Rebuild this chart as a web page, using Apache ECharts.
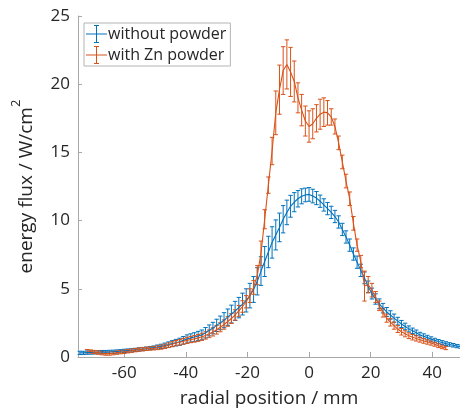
<!DOCTYPE html>
<html>
<head>
<meta charset="utf-8">
<script src="https://cdn.jsdelivr.net/npm/echarts@6/dist/echarts.min.js"></script>
<style>
html,body{margin:0;padding:0;background:#fff;}
#chart{width:460px;height:413px;}
</style>
</head>
<body>
<div id="chart"></div>
<script>
// radial positions (mm), shared by both measurements
var radialPos = [
	-74.4,-73.2,-72.0,-70.8,-69.6,-68.4,-67.2,-66.0,-64.8,-63.6,
	-62.4,-61.2,-60.0,-58.8,-57.6,-56.4,-55.2,-54.0,-52.8,-51.6,
	-50.4,-49.2,-48.0,-46.8,-45.6,-44.4,-43.2,-42.0,-40.8,-39.6,
	-38.4,-37.2,-36.0,-34.8,-33.6,-32.4,-31.2,-30.0,-28.8,-27.6,
	-26.4,-25.2,-24.0,-22.8,-21.6,-20.4,-19.2,-18.0,-16.8,-15.6,
	-14.4,-13.2,-12.0,-10.8,-9.6,-8.4,-7.2,-6.0,-4.8,-3.6,
	-2.4,-1.2,0.0,1.2,2.4,3.6,4.8,6.0,7.2,8.4,
	9.6,10.8,12.0,13.2,14.4,15.6,16.8,18.0,19.2,20.4,
	21.6,22.8,24.0,25.2,26.4,27.6,28.8,30.0,31.2,32.4,
	33.6,34.8,36.0,37.2,38.4,39.6,40.8,42.0,43.2,44.4,
	45.6,46.8,48.0,49.2
];

// without powder: mean and half error (W/cm2)
var noPowderMean = [
	0.30,0.30,0.32,0.33,0.34,0.35,0.36,0.36,0.37,0.38,
	0.40,0.42,0.45,0.47,0.49,0.52,0.55,0.58,0.61,0.65,
	0.69,0.73,0.78,0.84,0.91,0.98,1.05,1.12,1.22,1.32,
	1.40,1.46,1.54,1.62,1.78,1.95,2.12,2.32,2.50,2.70,
	2.92,3.15,3.38,3.62,3.88,4.15,4.50,4.95,5.55,6.30,
	7.00,7.70,8.40,8.95,9.50,10.10,10.60,11.05,11.35,11.60,
	11.78,11.88,11.92,11.80,11.65,11.42,11.15,10.88,10.60,10.30,
	9.90,9.35,8.80,8.20,7.55,6.95,6.35,5.80,5.15,4.65,
	4.25,3.90,3.58,3.30,3.08,2.85,2.63,2.42,2.24,2.06,
	1.92,1.78,1.62,1.52,1.42,1.32,1.22,1.13,1.06,0.98,
	0.92,0.86,0.80,0.76
];
var noPowderErr = [
	0.12,0.12,0.12,0.12,0.12,0.12,0.12,0.12,0.12,0.12,
	0.12,0.12,0.12,0.12,0.12,0.12,0.12,0.12,0.12,0.12,
	0.12,0.15,0.16,0.18,0.20,0.22,0.24,0.26,0.28,0.30,
	0.30,0.32,0.34,0.36,0.38,0.40,0.42,0.45,0.50,0.55,
	0.60,0.65,0.70,0.75,0.80,0.85,0.90,0.95,1.00,1.05,
	1.10,1.15,1.15,1.10,1.05,1.00,0.90,0.80,0.70,0.60,
	0.55,0.50,0.50,0.50,0.48,0.45,0.45,0.45,0.45,0.45,
	0.45,0.45,0.45,0.45,0.45,0.45,0.45,0.43,0.42,0.40,
	0.38,0.36,0.35,0.33,0.31,0.30,0.28,0.26,0.24,0.22,
	0.20,0.20,0.19,0.18,0.17,0.16,0.15,0.15,0.14,0.14,
	0.13,0.13,0.12,0.12
];

// with Zn powder: mean and half error (W/cm2), null where not measured
var znPowderMean = [
	null,null,0.43,0.40,0.36,0.32,0.28,0.25,0.25,0.28,
	0.32,0.35,0.38,0.42,0.46,0.50,0.54,0.57,0.60,0.62,
	0.64,0.68,0.72,0.78,0.86,0.94,1.02,1.08,1.15,1.22,
	1.28,1.33,1.40,1.48,1.58,1.70,1.84,2.00,2.18,2.38,
	2.60,2.82,3.08,3.38,3.70,4.05,4.50,5.10,6.00,7.60,
	10.1,12.6,15.1,17.9,19.6,21.0,21.45,20.9,20.2,19.0,
	18.1,17.3,16.9,17.1,17.5,17.8,17.95,17.9,17.6,16.9,
	15.7,14.3,12.9,11.6,9.8,8.2,7.0,5.2,5.3,4.9,
	4.4,3.75,3.25,2.85,2.55,2.30,2.05,1.85,1.70,1.56,
	1.45,1.36,1.27,1.18,1.10,1.02,0.93,0.83,0.74,0.66,
	null,null,null,null
];
var znPowderErr = [
	null,null,0.12,0.12,0.12,0.12,0.12,0.12,0.12,0.12,
	0.12,0.12,0.12,0.12,0.12,0.12,0.12,0.12,0.12,0.12,
	0.12,0.14,0.15,0.16,0.17,0.18,0.19,0.20,0.21,0.22,
	0.23,0.24,0.25,0.26,0.27,0.28,0.30,0.32,0.33,0.34,
	0.35,0.36,0.38,0.40,0.42,0.45,0.50,0.50,0.70,0.90,
	0.70,0.60,1.00,1.60,1.80,1.75,1.80,1.80,1.50,1.10,
	1.15,1.10,1.15,1.10,1.00,1.10,1.05,0.90,0.60,0.55,
	0.50,0.50,0.50,0.50,0.50,0.45,0.45,1.10,0.60,0.50,
	0.40,0.35,0.32,0.30,0.28,0.26,0.25,0.24,0.22,0.21,
	0.20,0.19,0.18,0.17,0.16,0.15,0.14,0.14,0.13,0.12,
	null,null,null,null
];

var xTicks = [-60,-40,-20,0,20,40];

var COLOR = {
	NO_POWDER:'#0072BD',
	ZN_POWDER:'#D95319'
};

var FONT = '"Open Sans","Noto Sans",sans-serif';

// legend glyph: horizontal line with an error bar
var ERRBAR_ICON = 'path://M0,9L21,9L21,10L0,10Z M10,1L11,1L11,18L10,18Z M8,0.5L13,0.5L13,1.5L8,1.5Z M8,17.5L13,17.5L13,18.5L8,18.5Z';

function linePoints(means){
	var out = [];
	for(var i = 0; i < radialPos.length; i++){
		if(means[i] != null) out.push([radialPos[i], means[i]]);
	}
	return out;
}

function barPoints(means,errs){
	var out = [];
	for(var i = 0; i < radialPos.length; i++){
		if(means[i] != null) out.push([radialPos[i], means[i]-errs[i], means[i]+errs[i]]);
	}
	return out;
}

function renderErrorBar(params,api){
	var x = api.value(0);
	var lo = api.coord([x, api.value(1)]);
	var hi = api.coord([x, api.value(2)]);
	var cap = 2.2;
	var style = {stroke: api.visual('color'), lineWidth: 1, fill: null};
	return {
		type:'group',
		children:[
			{type:'line', shape:{x1:lo[0], y1:lo[1], x2:hi[0], y2:hi[1]}, style:style},
			{type:'line', shape:{x1:hi[0]-cap, y1:hi[1], x2:hi[0]+cap, y2:hi[1]}, style:style},
			{type:'line', shape:{x1:lo[0]-cap, y1:lo[1], x2:lo[0]+cap, y2:lo[1]}, style:style}
		]
	};
}

function makeSeries(name,color,means,errs){
	return [
		{
			name:name,
			type:'custom',
			renderItem:renderErrorBar,
			itemStyle:{color:color},
			data:barPoints(means,errs),
			encode:{x:0, y:[1,2]},
			silent:true
		},
		{
			name:name,
			type:'line',
			symbol:'none',
			lineStyle:{color:color, width:1.1},
			itemStyle:{color:color},
			data:linePoints(means),
			silent:true
		}
	];
}

var myChart = echarts.init(document.getElementById('chart'), null, {renderer:'canvas'});

myChart.setOption({
	animation:false,
	backgroundColor:'#ffffff',
	grid:{left:78, right:0, top:16, bottom:54},
	legend:{
		orient:'vertical',
		left:84,
		top:23,
		padding:[2,4,2,2],
		itemGap:3,
		itemWidth:21,
		itemHeight:19,
		borderColor:'#b4b4b4',
		borderWidth:1,
		backgroundColor:'#ffffff',
		textStyle:{fontFamily:FONT, fontSize:16, color:'#262626', padding:[0,0,0,-4]},
		data:[
			{name:'without powder', icon:ERRBAR_ICON},
			{name:'with Zn powder', icon:ERRBAR_ICON}
		]
	},
	xAxis:{
		type:'value',
		min:-75,
		max:49,
		name:'radial position / mm',
		nameLocation:'middle',
		nameGap:32,
		nameTextStyle:{fontFamily:FONT, fontSize:19, color:'#262626'},
		axisLine:{show:true, onZero:false, lineStyle:{color:'#a8a8a8', width:1}},
		axisTick:{show:true, inside:true, length:5, customValues:xTicks, lineStyle:{color:'#a8a8a8'}},
		axisLabel:{customValues:xTicks, fontFamily:FONT, fontSize:17, color:'#262626', margin:8},
		splitLine:{show:false}
	},
	yAxis:{
		type:'value',
		min:0,
		max:25,
		interval:5,
		name:'{a|energy flux / W/cm}{b|2}',
		nameLocation:'middle',
		nameGap:42,
		nameRotate:90,
		nameTextStyle:{
			fontFamily:FONT, fontSize:19, color:'#262626',
			rich:{
				a:{fontFamily:FONT, fontSize:19, color:'#262626', lineHeight:26, verticalAlign:'bottom'},
				b:{fontFamily:FONT, fontSize:13, color:'#262626', lineHeight:26, verticalAlign:'top'}
			}
		},
		axisLine:{show:true, onZero:false, lineStyle:{color:'#a8a8a8', width:1}},
		axisTick:{show:true, inside:true, length:4, lineStyle:{color:'#a8a8a8'}},
		axisLabel:{fontFamily:FONT, fontSize:17, color:'#262626', margin:8},
		splitLine:{show:false}
	},
	series:[].concat(
		makeSeries('without powder', COLOR.NO_POWDER, noPowderMean, noPowderErr),
		makeSeries('with Zn powder', COLOR.ZN_POWDER, znPowderMean, znPowderErr)
	)
});
</script>
</body>
</html>
